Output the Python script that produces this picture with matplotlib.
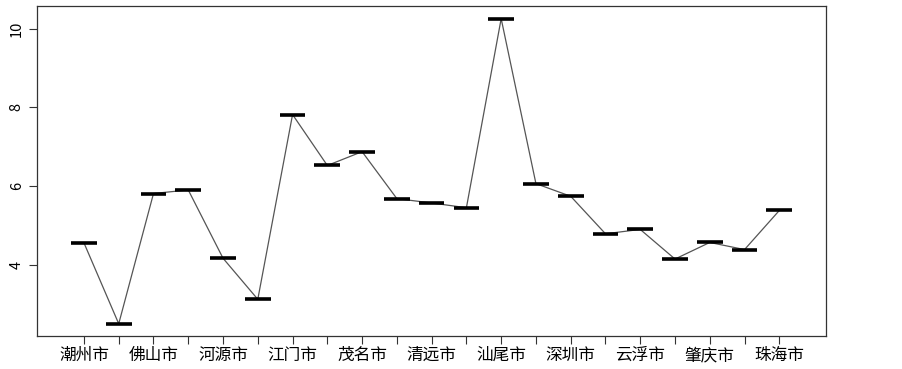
import matplotlib
matplotlib.use("Agg")
import matplotlib.pyplot as plt
import numpy as np

plt.rcParams['font.family'] = ['Noto Sans CJK SC', 'DejaVu Sans']

cities = ['潮州市', '东莞市', '佛山市', '广州市', '河源市', '惠州市', '江门市',
          '揭阳市', '茂名市', '梅州市', '清远市', '汕头市', '汕尾市', '韶关市',
          '深圳市', '阳江市', '云浮市', '湛江市', '肇庆市', '中山市', '珠海市']
values = [4.57, 2.52, 5.82, 5.91, 4.18, 3.14, 7.82,
          6.53, 6.88, 5.69, 5.58, 5.46, 10.25, 6.07,
          5.75, 4.80, 4.91, 4.16, 4.58, 4.40, 5.39]
yticks = [4, 6, 8, 10]

x = np.arange(1, len(cities) + 1)

fig = plt.figure(figsize=(9.03, 3.69), dpi=100)
ax = fig.add_axes([0.041, 0.0894, 0.874, 0.8943])

ax.plot(x, values, color='#555555', lw=0.9, zorder=1)
ax.hlines(values, x - 0.37, x + 0.37, color='black', lw=2.6, zorder=2)

ax.set_xlim(-0.35, 22.35)
ax.set_ylim(2.21, 10.57)
ax.set_xticks(x)
ax.set_xticklabels([c if i % 2 == 0 else '' for i, c in enumerate(cities)], fontsize=12)
ax.set_yticks(yticks)
ax.set_yticklabels([str(v) for v in yticks], rotation=90, va='center', fontsize=10.5)
ax.tick_params(length=6, width=0.8, color='#333333')
ax.tick_params(axis='x', pad=2)
for s in ax.spines.values():
    s.set_color('#333333')
    s.set_linewidth(0.9)

fig.savefig('out.png', dpi=100)
